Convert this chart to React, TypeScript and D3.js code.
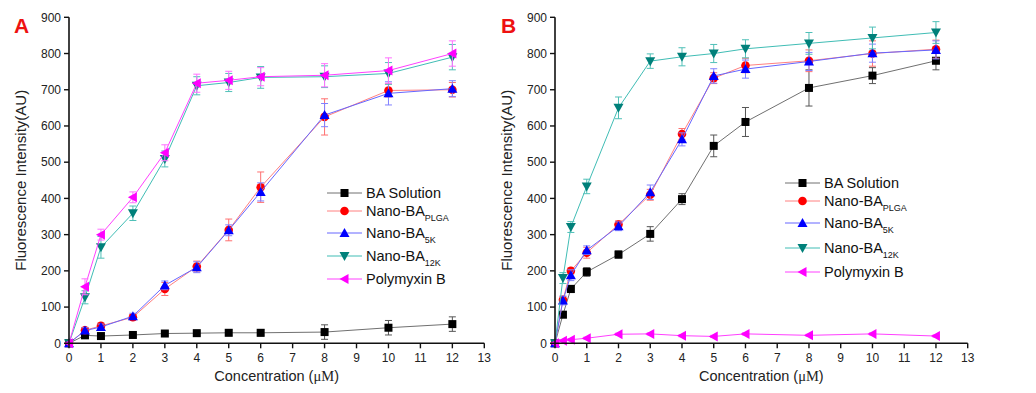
import React from "react";
import * as d3 from "d3";

// ---------- data ----------
const seriesNames = ["BA Solution", "Nano-BA", "Nano-BA", "Nano-BA", "Polymyxin B"];
const seriesSubs = ["", "PLGA", "5K", "12K", ""];

const concA = [0, 0.5, 1, 2, 3, 4, 5, 6, 8, 10, 12];
const aBA = [0, 22, 20, 23, 27, 28, 29, 29, 31, 43, 53];
const aBAErr = [0, 6, 5, 4, 5, 5, 8, 9, 20, 20, 20];
const aPLGA = [0, 36, 48, 72, 150, 212, 313, 431, 625, 698, 700];
const aPLGAErr = [0, 8, 8, 8, 18, 15, 30, 42, 50, 18, 20];
const a5K = [0, 35, 45, 75, 160, 210, 312, 418, 630, 690, 703];
const a5KErr = [0, 8, 8, 8, 12, 15, 15, 25, 32, 32, 22];
const a12K = [0, 127, 265, 359, 509, 711, 720, 734, 736, 745, 790];
const a12KErr = [0, 18, 30, 20, 22, 25, 25, 30, 30, 30, 35];
const aPMB = [0, 156, 300, 403, 526, 718, 726, 736, 740, 753, 800];
const aPMBErr = [0, 22, 15, 15, 22, 25, 25, 25, 32, 35, 35];

const concB = [0, 0.25, 0.5, 1, 2, 3, 4, 5, 6, 8, 10, 12];
const bBA = [0, 79, 150, 197, 245, 302, 398, 545, 611, 705, 739, 780];
const bBAErr = [0, 8, 10, 12, 10, 20, 15, 30, 40, 50, 22, 25];
const bPLGA = [0, 120, 200, 250, 328, 410, 578, 732, 767, 780, 800, 812];
const bPLGAErr = [0, 10, 8, 15, 10, 15, 15, 15, 20, 30, 35, 25];
const b5K = [0, 118, 188, 257, 323, 417, 563, 738, 757, 778, 801, 810];
const b5KErr = [0, 12, 15, 12, 12, 20, 18, 20, 25, 25, 25, 25];
const b12K = [0, 180, 321, 433, 650, 779, 791, 800, 813, 828, 843, 858];
const b12KErr = [0, 15, 15, 20, 30, 20, 25, 25, 25, 30, 30, 30];
const bPMB = [0, 7, 10, 14, 25, 26, 21, 19, 26, 22, 26, 20];
const bPMBErr = [0, 3, 3, 3, 3, 3, 3, 3, 3, 3, 3, 3];

const xTicks = [0, 1, 2, 3, 4, 5, 6, 7, 8, 9, 10, 11, 12, 13];
const yTicks = [0, 100, 200, 300, 400, 500, 600, 700, 800, 900];

// ---------- styles ----------
const markerColors = ["#000000", "#ff0000", "#0000ff", "#00807a", "#ff00ff"];
const lineColors = ["#707070", "#ff8080", "#6666ff", "#40bdb5", "#ff40ff"];
const errColors = ["#555555", "#ff7070", "#8080ff", "#50c0b8", "#ff70ff"];
const shapes = ["square", "circle", "up", "down", "left"];

const FONT = "'Liberation Sans', Arial, sans-serif";

function Marker({ shape, x, y, color }: { shape: string; x: number; y: number; color: string }) {
  if (shape === "square") return <rect x={x - 4} y={y - 4} width={8} height={8} fill={color} />;
  if (shape === "circle") return <circle cx={x} cy={y} r={4.3} fill={color} />;
  let pts = "";
  if (shape === "up") pts = `${x},${y - 5} ${x - 5},${y + 4} ${x + 5},${y + 4}`;
  if (shape === "down") pts = `${x},${y + 5} ${x - 5},${y - 4} ${x + 5},${y - 4}`;
  if (shape === "left") pts = `${x - 5},${y} ${x + 4},${y - 5} ${x + 4},${y + 5}`;
  return <polygon points={pts} fill={color} />;
}

function Panel({
  label, x0, x1, y0, y1, conc, values, errs, legendX, legendRows, labelX, titleX,
}: any) {
  const xs = d3.scaleLinear().domain([0, 13]).range([x0, x1]);
  const ys = d3.scaleLinear().domain([0, 900]).range([y0, y1]);
  const line = d3.line<number>().x((_, i) => xs(conc[i])).y((d) => ys(d));
  return (
    <g fontFamily={FONT}>
      {/* series */}
      {values.map((vals: number[], s: number) => (
        <g key={s}>
          <path d={line(vals) || ""} fill="none" stroke={lineColors[s]} strokeWidth={1} />
          {vals.map((v, i) => {
            const e = errs[s][i];
            if (!e) return null;
            const cx = xs(conc[i]);
            return (
              <g key={i} stroke={errColors[s]} strokeWidth={1}>
                <line x1={cx} x2={cx} y1={ys(v - e)} y2={ys(v + e)} />
                <line x1={cx - 3.5} x2={cx + 3.5} y1={ys(v - e)} y2={ys(v - e)} />
                <line x1={cx - 3.5} x2={cx + 3.5} y1={ys(v + e)} y2={ys(v + e)} />
              </g>
            );
          })}
          {vals.map((v, i) => (
            <Marker key={i} shape={shapes[s]} x={xs(conc[i])} y={ys(v)} color={markerColors[s]} />
          ))}
        </g>
      ))}
      {/* axes */}
      <line x1={x0} x2={x0} y1={y0 + 1} y2={y1} stroke="#111" strokeWidth={1.6} />
      <line x1={x0} x2={x1} y1={y0} y2={y0} stroke="#111" strokeWidth={1.6} />
      {yTicks.map((t) => (
        <g key={t}>
          <line x1={x0 - 5} x2={x0} y1={ys(t)} y2={ys(t)} stroke="#111" strokeWidth={1.4} />
          <text x={x0 - 8} y={ys(t) + 4.3} textAnchor="end" fontSize={12} fill="#222">{t}</text>
        </g>
      ))}
      {xTicks.map((t) => (
        <g key={t}>
          <line x1={xs(t)} x2={xs(t)} y1={y0} y2={y0 + 5} stroke="#111" strokeWidth={1.4} />
          <text x={xs(t)} y={y0 + 19} textAnchor="middle" fontSize={12} fill="#222">{t}</text>
        </g>
      ))}
      <text x={(x0 + x1) / 2} y={y0 + 38} textAnchor="middle" fontSize={14.5} fill="#222">
        Concentration (<tspan fontFamily="'Liberation Serif', serif">μM</tspan>)
      </text>
      <text
        transform={`translate(${titleX},${(y0 + y1) / 2}) rotate(-90)`}
        textAnchor="middle" fontSize={15} fill="#222"
      >
        Fluorescence Intensity(AU)
      </text>
      <text x={labelX} y={33} fontSize={21} fontWeight="bold" fill="#ee1111">{label}</text>
      {/* legend */}
      {legendRows.map((ry: number, s: number) => (
        <g key={s}>
          <line x1={legendX} x2={legendX + 35} y1={ry} y2={ry} stroke={lineColors[s]} strokeWidth={1} />
          <Marker shape={shapes[s]} x={legendX + 17.5} y={ry} color={markerColors[s]} />
          <text x={legendX + 39} y={ry + 5.2} fontSize={14.5} fill="#111">
            {seriesNames[s]}
            {seriesSubs[s] && <tspan fontSize={9} dy={5}>{seriesSubs[s]}</tspan>}
          </text>
        </g>
      ))}
    </g>
  );
}

export default function App() {
  return (
    <svg width={1036} height={393} style={{ position: "absolute", left: 0, top: 0, background: "#fff" }}>
      <rect width={1036} height={393} fill="#fff" />
      <Panel
        label="A" x0={69} x1={484.3} y0={343.3} y1={17.3}
        conc={concA}
        values={[aBA, aPLGA, a5K, a12K, aPMB]}
        errs={[aBAErr, aPLGAErr, a5KErr, a12KErr, aPMBErr]}
        legendX={327} legendRows={[193, 211, 233, 256, 279]}
        labelX={14} titleX={26}
      />
      <Panel
        label="B" x0={555} x1={967.7} y0={343.3} y1={17.3}
        conc={concB}
        values={[bBA, bPLGA, b5K, b12K, bPMB]}
        errs={[bBAErr, bPLGAErr, b5KErr, b12KErr, bPMBErr]}
        legendX={785} legendRows={[183, 201, 223, 248, 272]}
        labelX={501} titleX={512}
      />
    </svg>
  );
}
